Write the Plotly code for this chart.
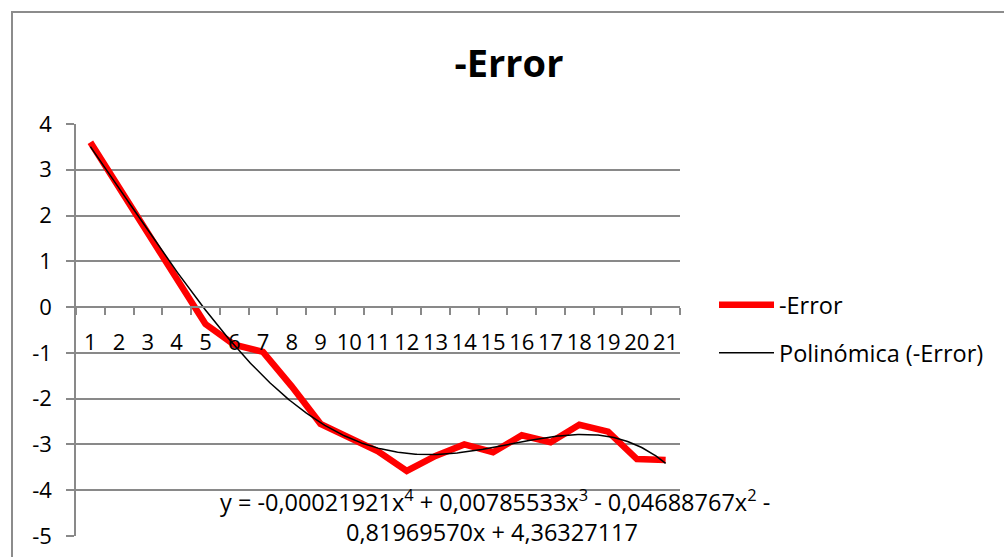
import numpy as np
import plotly.graph_objects as go

# Series values for categories 1..21
categories = list(range(1, 22))
error_values = [3.6, 2.6, 1.58, 0.6, -0.37, -0.82, -0.98, -1.73, -2.55, -2.85, -3.15,
                -3.58, -3.25, -3.0, -3.17, -2.8, -2.95, -2.57, -2.72, -3.32, -3.34]

# 4th-order polynomial trendline coefficients (highest power first)
trend_coefs = [-0.00021921, 0.00785533, -0.04688767, -0.81969570, 4.36327117]
trend_x = np.linspace(1, 21, 401)
trend_y = np.polyval(trend_coefs, trend_x)

y_ticks = [4, 3, 2, 1, 0, -1, -2, -3, -4, -5]

W, H = 1004, 557
FONT = "Open Sans"
GRID = "#898989"
TXT = 23.5

# plot area in pixels
left, right, top, bottom = 76, 680, 124, 536
xdom = [left / W, right / W]
ydom = [1 - bottom / H, 1 - top / H]
ymin, ymax = -5, 4
zero_pos = ydom[0] + (0 - ymin) / (ymax - ymin) * (ydom[1] - ydom[0])

fig = go.Figure()
fig.add_trace(go.Scatter(
    x=categories, y=error_values, mode="lines", name="-Error",
    line=dict(color="#FF0000", width=6.5), legend="legend",
))
fig.add_trace(go.Scatter(
    x=trend_x, y=trend_y, mode="lines", name="Polinómica (-Error)",
    line=dict(color="#000000", width=1.5), legend="legend2",
))

fig.update_layout(
    width=W, height=H,
    margin=dict(l=0, r=0, t=0, b=0, autoexpand=False),
    paper_bgcolor="white", plot_bgcolor="white",
    font=dict(family=FONT, size=22, color="black"),
    title=dict(text="-Error", x=509 / W, xanchor="center", y=1 - 64 / H, yanchor="middle",
               xref="paper", yref="paper",
               font=dict(family=FONT, size=38, color="black", weight="bold")),
    xaxis=dict(
        domain=xdom, range=[0.5, 21.5], type="linear", automargin=False,
        tickmode="array", tickvals=categories, ticktext=[str(c) for c in categories],
        ticks="", showgrid=False, zeroline=False,
        showline=True, linecolor=GRID, linewidth=1.5,
        anchor="free", position=zero_pos,
        tickfont=dict(family=FONT, size=22, color="black"),
        ticklabelstandoff=16,
        minor=dict(tick0=0.5, dtick=1, ticks="outside", ticklen=7,
                   tickcolor=GRID, tickwidth=1.5, showgrid=False),
    ),
    yaxis=dict(
        domain=ydom, range=[ymin, ymax], automargin=False,
        tickmode="array", tickvals=y_ticks, ticktext=[str(v) for v in y_ticks],
        ticks="outside", ticklen=8, tickcolor=GRID, tickwidth=1.5,
        showgrid=True, gridcolor=GRID, gridwidth=1.5, zeroline=False,
        showline=True, linecolor=GRID, linewidth=1.5,
        tickfont=dict(family=FONT, size=22, color="black"),
        ticklabelstandoff=10,
    ),
    legend=dict(x=714 / W, y=1 - 305 / H, xanchor="left", yanchor="middle",
                itemwidth=55, bgcolor="rgba(0,0,0,0)",
                font=dict(family=FONT, size=TXT, color="black")),
    legend2=dict(x=714 / W, y=1 - 353 / H, xanchor="left", yanchor="middle",
                 itemwidth=55, bgcolor="rgba(0,0,0,0)",
                 font=dict(family=FONT, size=TXT, color="black")),
    showlegend=True,
)

# trendline equation label
fig.add_annotation(
    text="y = -0,00021921x<sup>4</sup> + 0,00785533x<sup>3</sup> - 0,04688767x<sup>2</sup> -",
    x=495 / W, y=1 - 500 / H, xref="paper", yref="paper",
    xanchor="center", yanchor="middle", showarrow=False,
    font=dict(family=FONT, size=TXT, color="black"),
)
fig.add_annotation(
    text="0,81969570x + 4,36327117",
    x=492 / W, y=1 - 532 / H, xref="paper", yref="paper",
    xanchor="center", yanchor="middle", showarrow=False,
    font=dict(family=FONT, size=TXT, color="black"),
)

# chart-area frame
fig.add_shape(type="rect", xref="paper", yref="paper",
              x0=12 / W, x1=1.05, y0=-0.05, y1=1 - 12 / H,
              line=dict(color="#8C8C8C", width=2), fillcolor="rgba(0,0,0,0)", layer="below")

fig.write_html("out.html")
